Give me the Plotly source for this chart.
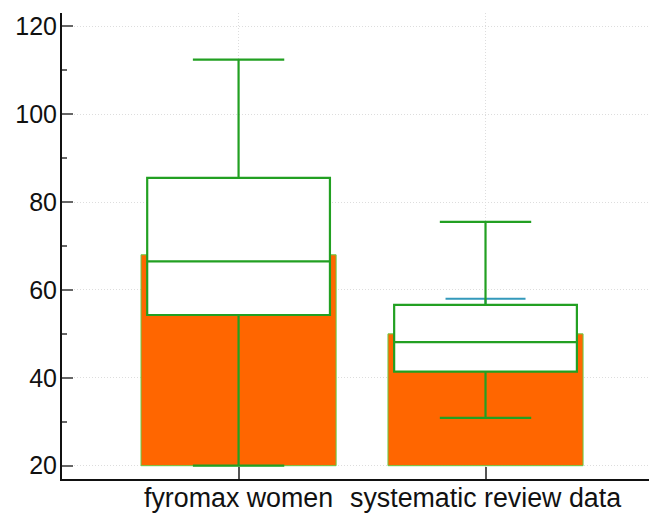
import plotly.graph_objects as go

categories = ["fyromax women", "systematic review data"]
bar_values = [68, 50]
bar_errors = [8, 8]
box_q1 = [54.3, 41.4]
box_median = [66.5, 48.1]
box_q3 = [85.5, 56.6]
box_lower = [20, 30.9]
box_upper = [112.4, 75.5]
y_ticks = [20, 40, 60, 80, 100, 120]

FONT = "Liberation Sans, Arial, sans-serif"

fig = go.Figure()
fig.add_trace(go.Bar(
    x=categories,
    y=[v - 20 for v in bar_values],
    base=20,
    width=0.79,
    marker=dict(color="#ff6600", line=dict(color="#66cc44", width=1)),
    error_y=dict(type="data", array=bar_errors, color="#3399bb", thickness=2, width=40),
    showlegend=False,
))
fig.add_trace(go.Box(
    x=categories,
    q1=box_q1,
    median=box_median,
    q3=box_q3,
    lowerfence=box_lower,
    upperfence=box_upper,
    width=0.74,
    whiskerwidth=0.5,
    fillcolor="white",
    line=dict(color="#22a022", width=2.2),
    boxpoints=False,
    showlegend=False,
))

fig.update_layout(
    width=649, height=520,
    margin=dict(l=62, r=0, t=13, b=41),
    paper_bgcolor="white", plot_bgcolor="white",
    boxmode="overlay", barmode="overlay",
    font=dict(family=FONT, color="#111111"),
    showlegend=False,
)
fig.update_xaxes(
    range=[-0.715, 1.662],
    showline=True, linecolor="#111111", linewidth=2,
    ticks="inside", ticklen=12, tickwidth=1.5, tickcolor="#555555",
    showgrid=True, gridcolor="#dddddd", griddash="1px,2px", gridwidth=1,
    tickfont=dict(size=26.8, family=FONT, color="#111111"),
    ticklabelstandoff=-6,
    zeroline=False,
)
fig.update_yaxes(
    range=[16.97, 123.03],
    tickmode="array", tickvals=y_ticks, ticktext=[str(t) for t in y_ticks],
    showline=True, linecolor="#111111", linewidth=2,
    ticks="inside", ticklen=11, tickwidth=2, tickcolor="#666666",
    minor=dict(ticks="inside", ticklen=5, tickwidth=2, tickcolor="#666666", dtick=10, tick0=0, showgrid=False),
    showgrid=True, gridcolor="#dddddd", griddash="1px,2px", gridwidth=1,
    tickfont=dict(size=25, family=FONT, color="#111111"),
    ticklabelstandoff=-2,
    zeroline=False,
)

fig.write_html(
    "out.html",
    config={"displayModeBar": False},
    post_script="document.body.style.margin='0';document.body.style.overflow='hidden';",
)
